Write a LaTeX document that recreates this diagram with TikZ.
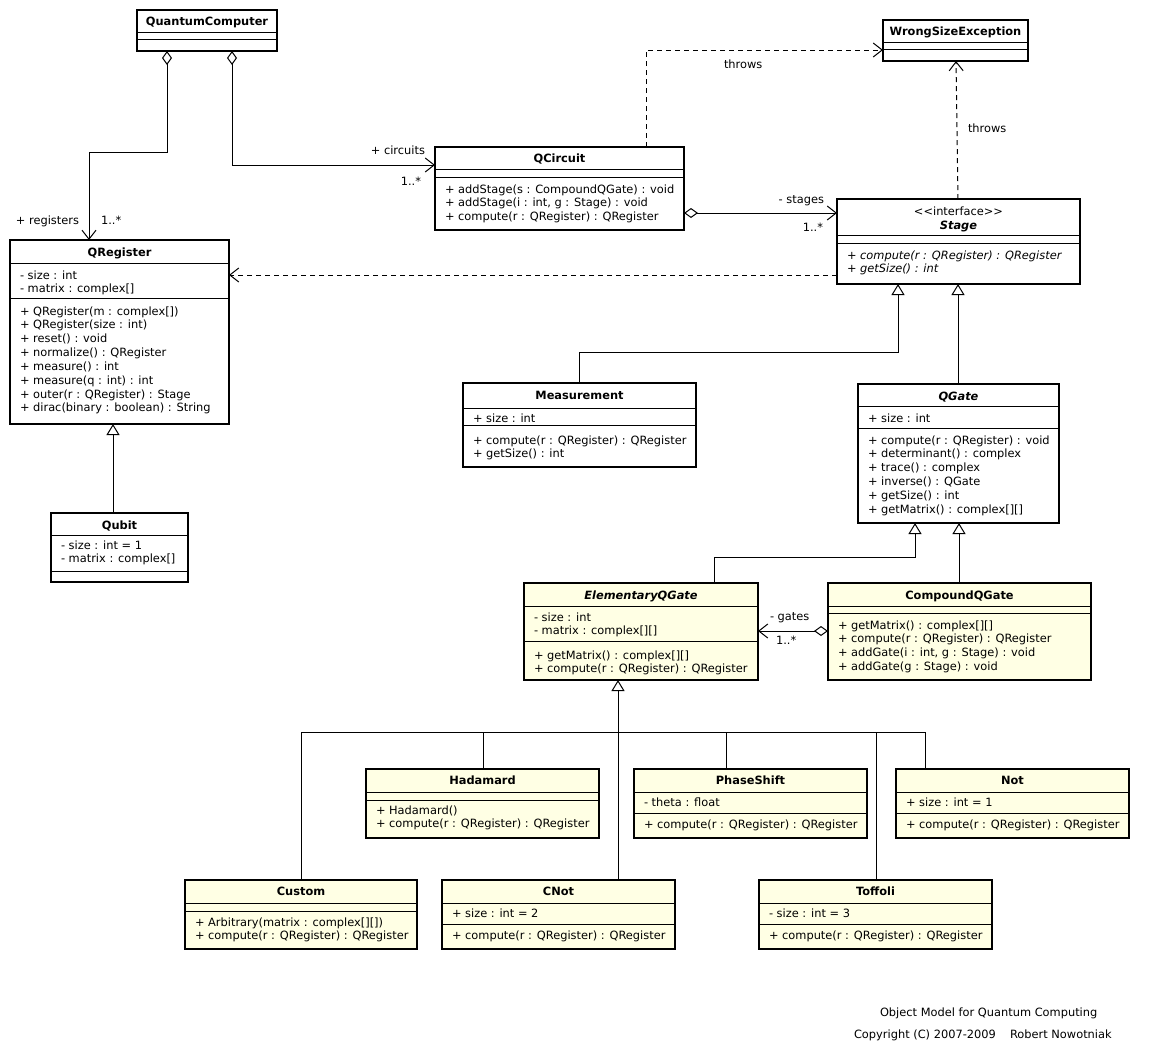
\documentclass[tikz,border=0pt]{standalone}
\usepackage{fontspec}
\setmainfont{DejaVu Sans}
\usetikzlibrary{arrows.meta}
\definecolor{umlyellow}{RGB}{255,255,228}
\newcommand\ls{\rule[-3.85pt]{0pt}{13.85pt}}
\newcommand\umlfont{\fontsize{11.4}{13.85}\selectfont}
\newcommand\umlbox[6]{\node[#6, minimum width={(#4)-(#2)}, minimum height={(#5)-(#3)}] (#1) at (#2,#3) {};}
\newcommand\sepat[2]{\draw[sepline] (#1.west |- 0,#2) -- (#1.east |- 0,#2);}
\begin{document}
\begin{tikzpicture}[x=1pt,y=-1pt,
  classbox/.style={draw=black, line width=2pt, inner sep=0pt, outer sep=0pt, anchor=north west, fill=white},
  ybox/.style={classbox, fill=umlyellow},
  sepline/.style={line width=1pt},
  lbl/.style={font=\umlfont, inner sep=0pt, outer sep=0pt},
  ctitle/.style={lbl, font=\umlfont\bfseries, anchor=base},
  ctitleit/.style={lbl, font=\umlfont\bfseries\itshape, anchor=base},
  stereo/.style={lbl, anchor=base},
  comp/.style={lbl, align=left, anchor=north west},
  compit/.style={comp, font=\umlfont\itshape},
  conn/.style={line width=1pt},
  gen/.style={conn, -{Triangle[length=11pt,width=13pt,fill=white,line width=1pt]}},
  tree/.style={conn},
  agg/.style={conn, {Diamond[length=14pt,width=10pt,fill=white,line width=1pt]}-{Straight Barb[length=9pt,width=14pt,line width=1pt]}},
  dep/.style={conn, dash pattern=on 5pt off 4pt, -{Straight Barb[length=9pt,width=14pt,line width=1pt]}}
]
\fill[white] (0,0) rectangle (1151,1058);
\useasboundingbox (0,0) rectangle (1151,1058);

% QuantumComputer
\umlbox{qc}{137}{10}{277}{51}{classbox}
\sepat{qc}{32}\sepat{qc}{39}
\node[ctitle] (qc-t) at (207,25.5) {QuantumComputer};

% WrongSizeException
\umlbox{wse}{883}{20}{1028}{61}{classbox}
\sepat{wse}{42}\sepat{wse}{49}
\node[ctitle] (wse-t) at (955.5,35.5) {WrongSizeException};

% QCircuit
\umlbox{qcirc}{435}{147}{684}{230}{classbox}
\sepat{qcirc}{169}\sepat{qcirc}{177}
\node[ctitle] (qcirc-t) at (559.5,162.5) {QCircuit};
\node[comp] (qcirc-m) at (445,183) {\ls+ addStage(s : CompoundQGate) : void\\\ls+ addStage(i : int, g : Stage) : void\\\ls+ compute(r : QRegister) : QRegister};

% Stage
\umlbox{stage}{837}{199}{1080}{284}{classbox}
\sepat{stage}{235}\sepat{stage}{243}
\node[stereo] (stage-s) at (958.5,215) {<\kern0pt<interface>\kern0pt>};
\node[ctitleit] (stage-t) at (958.5,229) {Stage};
\node[compit] (stage-m) at (847,249) {\ls+ compute(r : QRegister) : QRegister\\\ls+ getSize() : int};

% QRegister
\umlbox{qreg}{10}{240}{229}{424}{classbox}
\sepat{qreg}{263}\sepat{qreg}{298}
\node[ctitle] (qreg-t) at (119.5,256) {QRegister};
\node[comp] (qreg-a) at (20,269) {\ls- size : int\\\ls- matrix : complex[]};
\node[comp] (qreg-m) at (20,305) {\ls+ QRegister(m : complex[])\\\ls+ QRegister(size : int)\\\ls+ reset() : void\\\ls+ normalize() : QRegister\\\ls+ measure() : int\\\ls+ measure(q : int) : int\\\ls+ outer(r : QRegister) : Stage\\\ls+ dirac(binary : boolean) : String};

% Qubit
\umlbox{qubit}{51}{513}{188}{582}{classbox}
\sepat{qubit}{535}\sepat{qubit}{571}
\node[ctitle] (qubit-t) at (119.5,529) {Qubit};
\node[comp] (qubit-a) at (61,539) {\ls- size : int = 1\\\ls- matrix : complex[]};

% Measurement
\umlbox{meas}{463}{383}{696}{467}{classbox}
\sepat{meas}{408}\sepat{meas}{425}
\node[ctitle] (meas-t) at (579.5,399) {Measurement};
\node[comp] (meas-a) at (473,412) {\ls+ size : int};
\node[comp] (meas-m) at (473,434) {\ls+ compute(r : QRegister) : QRegister\\\ls+ getSize() : int};

% QGate
\umlbox{qgate}{858}{384}{1059}{523}{classbox}
\sepat{qgate}{406}\sepat{qgate}{428}
\node[ctitleit] (qgate-t) at (958.5,400) {QGate};
\node[comp] (qgate-a) at (868,412) {\ls+ size : int};
\node[comp] (qgate-m) at (868,434) {\ls+ compute(r : QRegister) : void\\\ls+ determinant() : complex\\\ls+ trace() : complex\\\ls+ inverse() : QGate\\\ls+ getSize() : int\\\ls+ getMatrix() : complex[][]};

% ElementaryQGate
\umlbox{elem}{524}{583}{758}{680}{ybox}
\sepat{elem}{606}\sepat{elem}{641}
\node[ctitleit] (elem-t) at (641,599) {ElementaryQGate};
\node[comp] (elem-a) at (534,611) {\ls- size : int\\\ls- matrix : complex[][]};
\node[comp] (elem-m) at (534,649) {\ls+ getMatrix() : complex[][]\\\ls+ compute(r : QRegister) : QRegister};

% CompoundQGate
\umlbox{comp}{828}{583}{1091}{680}{ybox}
\sepat{comp}{606}\sepat{comp}{613}
\node[ctitle] (comp-t) at (959.5,599) {CompoundQGate};
\node[comp] (comp-m) at (838,619) {\ls+ getMatrix() : complex[][]\\\ls+ compute(r : QRegister) : QRegister\\\ls+ addGate(i : int, g : Stage) : void\\\ls+ addGate(g : Stage) : void};

% Hadamard
\umlbox{had}{366}{769}{599}{838}{ybox}
\sepat{had}{792}\sepat{had}{800}
\node[ctitle] (had-t) at (482.5,784.7) {Hadamard};
\node[comp] (had-m) at (376,804) {\ls+ Hadamard()\\\ls+ compute(r : QRegister) : QRegister};

% PhaseShift
\umlbox{ps}{634}{769}{867}{838}{ybox}
\sepat{ps}{792}\sepat{ps}{813.3}
\node[ctitle] (ps-t) at (750.5,784.7) {PhaseShift};
\node[comp] (ps-a) at (644,796) {\ls- theta : float};
\node[comp] (ps-m) at (644,818) {\ls+ compute(r : QRegister) : QRegister};

% Not
\umlbox{not}{896}{769}{1129}{838}{ybox}
\sepat{not}{792}\sepat{not}{813.3}
\node[ctitle] (not-t) at (1012.5,784.7) {Not};
\node[comp] (not-a) at (906,796) {\ls+ size : int = 1};
\node[comp] (not-m) at (906,818) {\ls+ compute(r : QRegister) : QRegister};

% Custom
\umlbox{cust}{185}{880}{417}{949}{ybox}
\sepat{cust}{903}\sepat{cust}{911}
\node[ctitle] (cust-t) at (301,895.7) {Custom};
\node[comp] (cust-m) at (195,916) {\ls+ Arbitrary(matrix : complex[][])\\\ls+ compute(r : QRegister) : QRegister};

% CNot
\umlbox{cnot}{442}{880}{675}{949}{ybox}
\sepat{cnot}{903}\sepat{cnot}{924.3}
\node[ctitle] (cnot-t) at (558.5,895.7) {CNot};
\node[comp] (cnot-a) at (452,907) {\ls+ size : int = 2};
\node[comp] (cnot-m) at (452,929) {\ls+ compute(r : QRegister) : QRegister};

% Toffoli
\umlbox{toff}{759}{880}{992}{949}{ybox}
\sepat{toff}{903}\sepat{toff}{924.3}
\node[ctitle] (toff-t) at (875.5,895.7) {Toffoli};
\node[comp] (toff-a) at (769,907) {\ls- size : int = 3};
\node[comp] (toff-m) at (769,929) {\ls+ compute(r : QRegister) : QRegister};

% connectors
\draw[agg] ([xshift=30]qc.south west) -- ++(0,101) -| ([xshift=79]qreg.north west);
\draw[agg] ([xshift=95]qc.south west) |- ([yshift=-18]qcirc.north west);
\draw[dep] ([xshift=211]qcirc.north west) |- ([yshift=-30]wse.north west);
\draw[dep] ([xshift=121]stage.north west) -- ([xshift=73]wse.south west);
\draw[agg] ([yshift=-66]qcirc.north east) -- ([yshift=-14]stage.north west);
\draw[dep] ([yshift=-76]stage.north west) -- ([yshift=-35]qreg.north east);
\draw[gen] ([xshift=62]qubit.north west) -- ([xshift=103]qreg.south west);
\draw[gen] ([xshift=116]meas.north west) -- ++(0,-31) -| ([xshift=61]stage.south west);
\draw[gen] ([xshift=100]qgate.north west) -- ([xshift=121]stage.south west);
\draw[gen] ([xshift=190]elem.north west) -- ++(0,-26) -| ([xshift=57]qgate.south west);
\draw[gen] ([xshift=131]comp.north west) -- ([xshift=101]qgate.south west);
\draw[agg] ([yshift=-48]comp.north west) -- ([yshift=-48]elem.north east);
\coordinate (tj) at (618,732);
\draw[gen] ([xshift=176]cnot.north west) -- ([xshift=94]elem.south west);
\draw[tree] ([xshift=116]cust.north west) |- (tj);
\draw[tree] ([xshift=117]had.north west) |- (tj);
\draw[tree] ([xshift=92]ps.north west) |- (tj);
\draw[tree] ([xshift=29]not.north west) |- (tj);
\draw[tree] ([xshift=117]toff.north west) |- (tj);

% labels
\node[lbl, anchor=base east] (l-reg) at (79,224) {+ registers};
\node[lbl, anchor=base west] (l-reg-m) at (101,224) {1..*};
\node[lbl, anchor=base east] (l-circ) at (425,154) {+ circuits};
\node[lbl, anchor=base east] (l-circ-m) at (421,185) {1..*};
\node[lbl, anchor=base west] (l-thr1) at (724,68) {throws};
\node[lbl, anchor=base west] (l-thr2) at (968,132) {throws};
\node[lbl, anchor=base east] (l-stg) at (824,203) {- stages};
\node[lbl, anchor=base east] (l-stg-m) at (823,231.5) {1..*};
\node[lbl, anchor=base west] (l-gates) at (770,620.5) {- gates};
\node[lbl, anchor=base west] (l-gates-m) at (776,644) {1..*};

% footer
\node[lbl, anchor=base west] (f1) at (880,1016) {Object Model for Quantum Computing};
\node[lbl, anchor=base west] (f2) at (854,1038.5) {Copyright (C) 2007-2009\hspace{10.5pt} Robert Nowotniak};
\end{tikzpicture}
\end{document}
